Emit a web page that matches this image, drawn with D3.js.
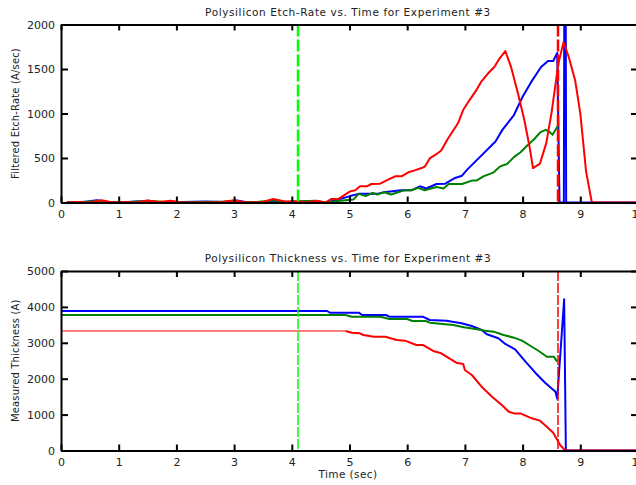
<!DOCTYPE html>
<html>
<head>
<meta charset="utf-8">
<script src="https://cdn.jsdelivr.net/npm/d3@7"></script>
<style>
  html, body { margin: 0; padding: 0; background: #fff; }
  svg { display: block; }
  text { font-family: "DejaVu Sans", Verdana, sans-serif; fill: #222; }
</style>
</head>
<body>
<div id="chart"></div>
<script>
// x ticks shared by both panels
const timeTicks = [0, 1, 2, 3, 4, 5, 6, 7, 8, 9, 10];
const etchTicks = [0, 500, 1000, 1500, 2000];
const thickTicks = [0, 1000, 2000, 3000, 4000, 5000];

// etch rate (A/sec) vs time (sec)
const etchBlue = [[0.1,0],[0.4,5],[0.62,25],[0.8,5],[1.0,0],[1.3,10],[1.5,15],[1.7,0],[1.9,-5],[2.1,5],[2.5,10],[2.8,5],[3.05,22],[3.2,5],[3.5,0],[3.7,10],[4.0,5],[4.2,15],[4.4,5],[4.55,-5],[4.73,20],[5.01,72],[5.16,97],[5.48,97],[5.6,115],[5.89,137],[6.07,137],[6.22,182],[6.33,157],[6.51,208],[6.66,212],[6.83,276],[6.95,301],[7.04,369],[7.53,685],[7.65,816],[7.85,983],[8.0,1188],[8.15,1355],[8.32,1523],[8.44,1590],[8.53,1590],[8.6,1680],[8.64,0],[8.715,0],[8.735,6000],[8.755,0],[10,0]];
const etchGreen = [[0.1,0],[0.5,10],[0.67,20],[0.8,0],[1.2,5],[1.5,20],[1.8,5],[2.0,0],[2.5,5],[3.0,10],[3.3,0],[3.7,25],[3.9,5],[4.2,15],[4.4,20],[4.6,0],[4.84,20],[5.07,35],[5.16,97],[5.28,72],[5.4,108],[5.48,90],[5.6,115],[5.72,90],[5.84,115],[5.95,137],[6.07,137],[6.19,164],[6.3,137],[6.51,175],[6.63,157],[6.72,208],[6.95,208],[7.12,246],[7.2,246],[7.32,294],[7.5,339],[7.61,406],[7.73,432],[7.85,510],[7.96,562],[8.08,640],[8.2,711],[8.31,790],[8.4,816],[8.46,797],[8.52,760],[8.62,872]];
const etchRed = [[0.1,0],[0.3,5],[0.5,0],[0.7,25],[0.9,0],[1.1,5],[1.3,0],[1.5,22],[1.7,5],[1.9,20],[2.1,0],[2.5,0],[2.8,5],[3.0,25],[3.2,0],[3.5,5],[3.68,40],[3.9,10],[4.1,15],[4.26,0],[4.43,20],[4.58,0],[4.69,40],[4.81,40],[5.01,125],[5.1,137],[5.18,182],[5.3,182],[5.38,208],[5.53,212],[5.67,257],[5.79,294],[5.9,294],[6.02,339],[6.13,361],[6.25,387],[6.31,406],[6.39,495],[6.5,540],[6.59,585],[6.71,722],[6.88,890],[6.97,1039],[7.08,1151],[7.2,1263],[7.28,1355],[7.4,1449],[7.51,1523],[7.6,1617],[7.7,1702],[7.8,1523],[7.92,1226],[8.03,927],[8.12,629],[8.18,387],[8.3,436],[8.41,667],[8.5,1002],[8.62,1561],[8.71,1802],[8.8,1635],[8.91,1374],[9.0,1002],[9.1,350],[9.2,0],[10,0]];

// thickness (A) vs time (sec)
const thickBlue = [[0,3886],[4.61,3886],[4.66,3839],[5.16,3839],[5.22,3774],[5.63,3774],[5.69,3728],[6.27,3728],[6.39,3635],[6.68,3616],[6.94,3543],[7.12,3468],[7.29,3357],[7.38,3237],[7.58,3125],[7.7,2967],[7.87,2819],[8.05,2474],[8.22,2167],[8.39,1889],[8.57,1638],[8.6,1443],[8.72,4212],[8.75,0],[10,0]];
const thickGreen = [[0,3774],[4.93,3774],[5.04,3728],[5.54,3728],[5.69,3663],[6.0,3663],[6.09,3607],[6.32,3607],[6.39,3560],[6.8,3496],[6.98,3431],[7.21,3376],[7.35,3338],[7.5,3310],[7.67,3217],[7.85,3143],[7.99,3059],[8.14,2911],[8.28,2772],[8.42,2613],[8.54,2613],[8.6,2474]];
const thickRedInitial = [[0,3329],[4.93,3329]];
const thickRed = [[4.93,3329],[5.04,3282],[5.18,3264],[5.24,3217],[5.42,3170],[5.62,3170],[5.82,3078],[5.96,3059],[6.16,2939],[6.27,2939],[6.45,2772],[6.59,2707],[6.73,2568],[6.85,2446],[6.97,2409],[7.0,2242],[7.12,2103],[7.29,1777],[7.47,1499],[7.64,1267],[7.76,1081],[7.85,1034],[7.96,1034],[8.16,897],[8.3,832],[8.42,663],[8.53,496],[8.65,153],[8.74,0],[10,0]];

// event markers (sec)
const plasmaOnTime = 4.1;
const endpointTime = 8.62;

const W = 636, H = 485;
const xLeft = 61, xRight = 638;

const svg = d3.select("#chart").append("svg")
  .attr("width", W).attr("height", H);

const x = d3.scaleLinear().domain([0, 10]).range([xLeft, xRight]);

function drawPanel(cfg)
{
  const y = d3.scaleLinear().domain(cfg.domain).range([cfg.bottom, cfg.top]);
  const g = svg.append("g");

  g.append("clipPath").attr("id", cfg.id)
    .append("rect")
    .attr("x", xLeft).attr("y", cfg.top)
    .attr("width", xRight - xLeft).attr("height", cfg.bottom - cfg.top);

  const plot = g.append("g").attr("clip-path", `url(#${cfg.id})`);
  const line = d3.line().x(d => x(d[0])).y(d => y(d[1]));

  cfg.series.forEach(s => {
    plot.append("path")
      .datum(s.data)
      .attr("d", line)
      .attr("fill", "none")
      .attr("stroke", s.color)
      .attr("stroke-width", s.width)
      .attr("stroke-linejoin", "round");
  });

  cfg.markers.forEach(m => {
    const mx = Math.round(x(m.t));
    plot.append("line")
      .attr("x1", mx).attr("x2", mx)
      .attr("y1", cfg.top).attr("y2", cfg.bottom)
      .attr("stroke", m.color)
      .attr("stroke-width", m.width)
      .attr("stroke-dasharray", m.dash);
  });

  // axes, ticks pointing inward on all four sides
  const xBottom = d3.axisBottom(x).tickValues(timeTicks).tickSizeInner(-6).tickSizeOuter(0).tickPadding(8);
  const xTop = d3.axisTop(x).tickValues(timeTicks).tickSizeInner(-6).tickSizeOuter(0).tickFormat("");
  const yLeft = d3.axisLeft(y).tickValues(cfg.ticks).tickSizeInner(-7).tickSizeOuter(0).tickPadding(6).tickFormat(d3.format("d"));
  const yRight = d3.axisRight(y).tickValues(cfg.ticks).tickSizeInner(-7).tickSizeOuter(0).tickFormat("");

  const axes = [
    g.append("g").attr("transform", `translate(0,${cfg.bottom})`).call(xBottom),
    g.append("g").attr("transform", `translate(0,${cfg.top})`).call(xTop),
    g.append("g").attr("transform", `translate(${xLeft},0)`).call(yLeft),
    g.append("g").attr("transform", `translate(${xRight},0)`).call(yRight)
  ];
  axes.forEach(a => {
    a.select(".domain").attr("stroke", "#000").attr("stroke-width", 2);
    a.selectAll(".tick line").attr("stroke", "#000").attr("stroke-width", 2);
    a.selectAll(".tick text")
      .attr("font-family", "DejaVu Sans, sans-serif")
      .attr("font-size", 11)
      .attr("fill", "#333");
  });

  g.append("text")
    .attr("x", 348).attr("y", cfg.top - 9)
    .attr("text-anchor", "middle")
    .attr("font-size", 10.5)
    .attr("letter-spacing", 0.6)
    .text(cfg.title);

  g.append("text")
    .attr("transform", `translate(19,${(cfg.top + cfg.bottom) / 2}) rotate(-90)`)
    .attr("text-anchor", "middle")
    .attr("font-size", 10)
    .attr("letter-spacing", 0.15)
    .text(cfg.yLabel);
}

drawPanel({
  id: "clipEtch",
  top: 24.5, bottom: 202.5,
  domain: [0, 2000],
  ticks: etchTicks,
  title: "Polysilicon Etch-Rate vs. Time for Experiment #3",
  yLabel: "Filtered Etch-Rate (A/sec)",
  series: [
    {data: etchBlue, color: "#0000ff", width: 2},
    {data: etchGreen, color: "#008000", width: 2},
    {data: etchRed, color: "#ff0000", width: 2}
  ],
  markers: [
    {t: plasmaOnTime, color: "#00ff00", width: 2.5, dash: "12,3"},
    {t: endpointTime, color: "#ff0000", width: 2.5, dash: "12,3"}
  ]
});

drawPanel({
  id: "clipThick",
  top: 271, bottom: 450.5,
  domain: [0, 5000],
  ticks: thickTicks,
  title: "Polysilicon Thickness vs. Time for Experiment #3",
  yLabel: "Measured Thickness (A)",
  series: [
    {data: thickBlue, color: "#0000ff", width: 2},
    {data: thickGreen, color: "#008000", width: 2},
    {data: thickRedInitial, color: "#ff0000", width: 1},
    {data: thickRed, color: "#ff0000", width: 2}
  ],
  markers: [
    {t: plasmaOnTime, color: "#00ff00", width: 1.5, dash: "10,2"},
    {t: endpointTime, color: "#ff0000", width: 1.5, dash: "10,2"}
  ]
});

svg.append("text")
  .attr("x", 348).attr("y", 478)
  .attr("text-anchor", "middle")
  .attr("font-size", 10.5)
  .attr("letter-spacing", 0.4)
  .text("Time (sec)");
</script>
</body>
</html>
